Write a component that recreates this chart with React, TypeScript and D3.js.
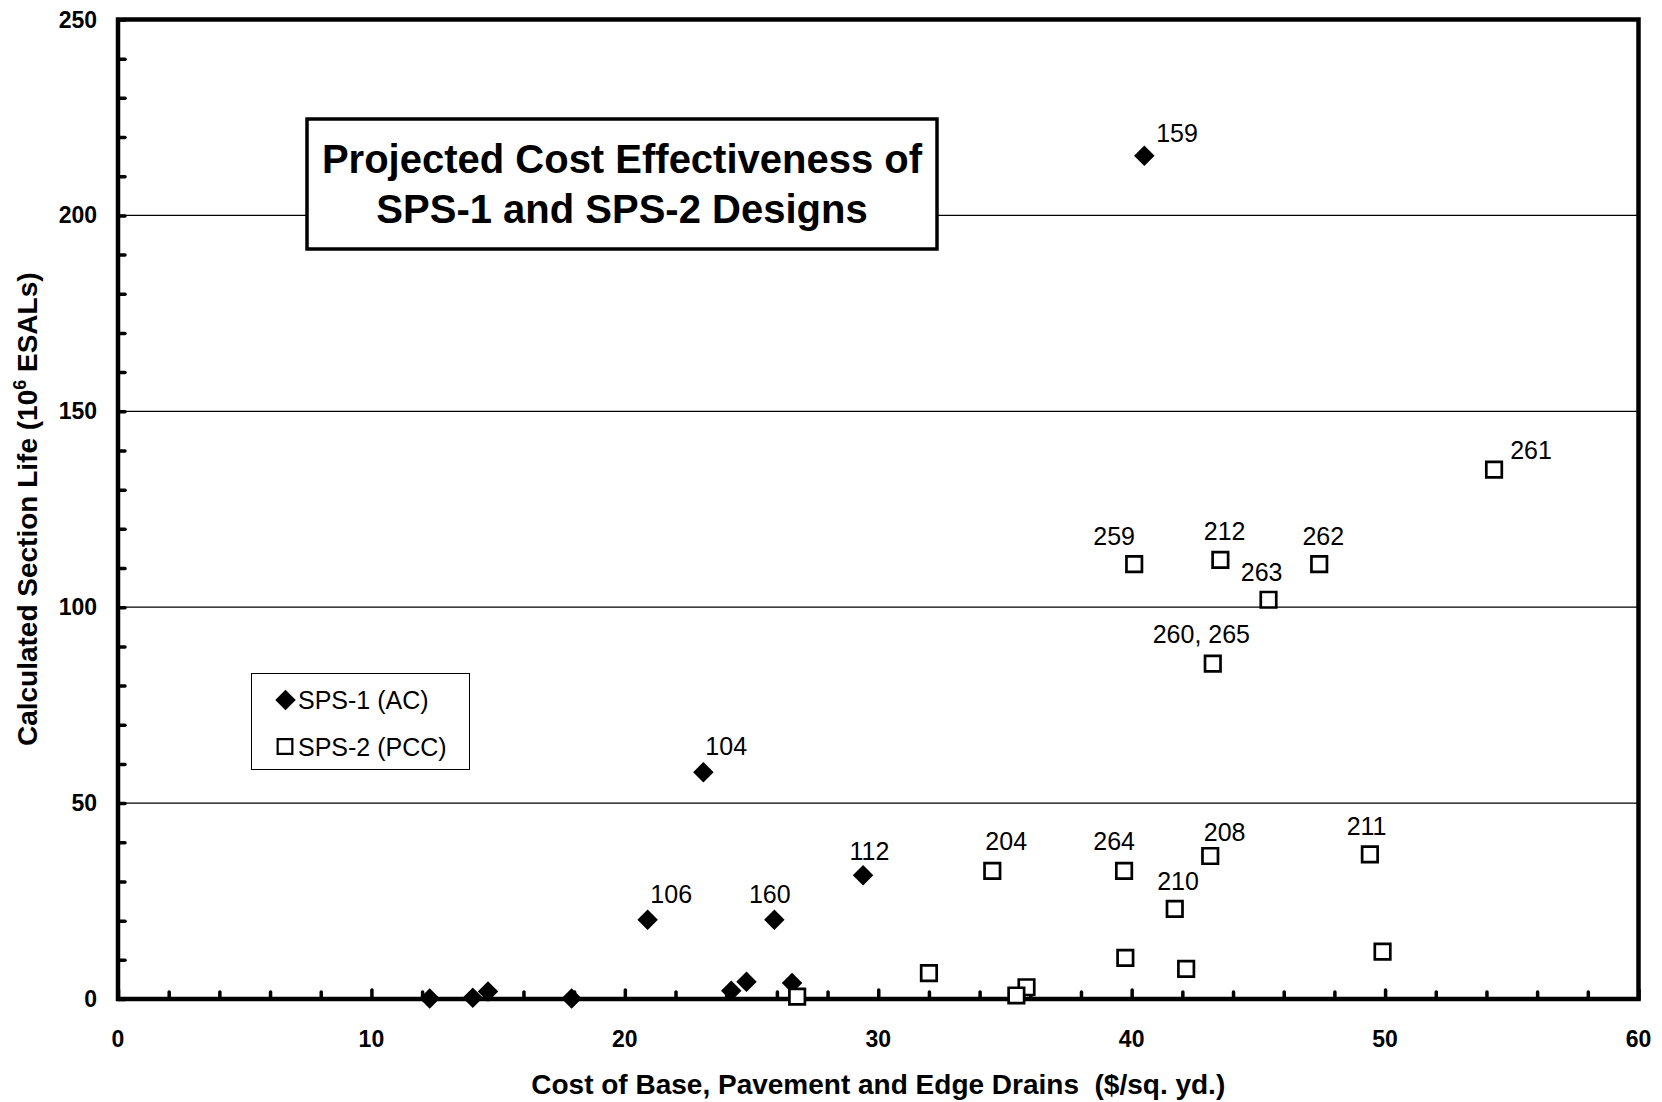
import * as d3 from "d3";
import React from "react";

// axis ticks
const xLabelTicks = [0, 10, 20, 30, 40, 50, 60];
const xMinorTicks = d3.range(0, 61, 2);
const yLabelTicks = [0, 50, 100, 150, 200, 250];
const yMinorTicks = d3.range(0, 251, 10);
const gridValues = [50, 100, 150, 200];

// SPS-1 (AC) sections
const sps1Cost = [40.5, 23.1, 29.4, 20.9, 25.9, 12.3, 14.0, 14.6, 17.9, 24.2, 24.8, 26.6];
const sps1Life = [215.2, 57.9, 31.6, 20.2, 20.2, 0.1, 0.3, 1.9, 0.1, 2.1, 4.4, 4.1];

// SPS-2 (PCC) sections
const sps2Cost = [54.3, 40.1, 43.5, 47.4, 45.4, 43.2, 34.5, 39.7, 43.1, 49.4, 41.7, 32.0, 39.75, 42.15, 49.9, 35.85, 35.45, 26.8];
const sps2Life = [135.1, 111.0, 112.1, 111.0, 101.9, 85.6, 32.7, 32.7, 36.5, 36.9, 23.0, 6.6, 10.5, 7.7, 12.1, 3.0, 0.9, 0.6];

// section number labels (anchored in data units)
const labelText = ["159", "104", "112", "106", "160", "261", "259", "212", "262", "263", "260, 265", "204", "264", "208", "210", "211"];
const labelCost = [41.79, 24.0, 29.65, 21.83, 25.72, 55.76, 39.31, 43.67, 47.56, 45.13, 42.75, 35.05, 39.31, 43.67, 41.83, 49.27];
const labelLife = [221.1, 64.5, 37.8, 26.9, 26.9, 140.0, 118.3, 119.4, 118.3, 109.1, 93.2, 40.2, 40.2, 42.6, 30.2, 44.2];

const width = 1662;
const height = 1102;
const font = "'Liberation Sans', Arial, sans-serif";

export default function App() {
  const svgRef = React.useRef<SVGSVGElement | null>(null);

  React.useEffect(() => {
    const svg = d3.select(svgRef.current);
    svg.selectAll("*").remove();
    const margin = { top: 19.5, right: 23.5, bottom: 103, left: 118 };

    const x = d3.scaleLinear().domain([0, 60]).range([margin.left, width - margin.right]);
    const y = d3.scaleLinear().domain([0, 250]).range([height - margin.bottom, margin.top]);

    // grid lines
    svg
      .append("g")
      .selectAll("line")
      .data(gridValues)
      .join("line")
      .attr("x1", x(0))
      .attr("x2", x(60))
      .attr("y1", (d) => y(d))
      .attr("y2", (d) => y(d))
      .attr("stroke", "#000")
      .attr("stroke-width", 1.2);

    // minor ticks, pointing inward
    const xMinor = svg
      .append("g")
      .attr("transform", `translate(0,${y(0)})`)
      .call(d3.axisBottom(x).tickValues(xMinorTicks).tickSize(-7).tickFormat(() => ""));
    xMinor.select(".domain").remove();
    xMinor.selectAll("line")
      .attr("stroke-width", 3.5)
      .attr("stroke-linecap", "round")
      .attr("y2", (d: any) => (d % 10 === 0 ? -9 : -7));

    const yMinor = svg
      .append("g")
      .attr("transform", `translate(${x(0)},0)`)
      .call(d3.axisLeft(y).tickValues(yMinorTicks).tickSize(-7).tickFormat(() => ""));
    yMinor.select(".domain").remove();
    yMinor.selectAll("line").attr("stroke-width", 3.5).attr("stroke-linecap", "round");

    // frame
    svg
      .append("rect")
      .attr("x", x(0))
      .attr("y", y(250))
      .attr("width", x(60) - x(0))
      .attr("height", y(0) - y(250))
      .attr("fill", "none")
      .attr("stroke", "#000")
      .attr("stroke-width", 4.5);

    // tick labels
    svg
      .append("g")
      .selectAll("text")
      .data(xLabelTicks)
      .join("text")
      .attr("x", (d) => x(d))
      .attr("y", y(0) + 40)
      .attr("text-anchor", "middle")
      .attr("dominant-baseline", "central")
      .attr("font-family", font)
      .attr("font-weight", "bold")
      .attr("font-size", 23)
      .text((d) => d);

    svg
      .append("g")
      .selectAll("text")
      .data(yLabelTicks)
      .join("text")
      .attr("x", x(0) - 21)
      .attr("y", (d) => y(d))
      .attr("text-anchor", "end")
      .attr("dominant-baseline", "central")
      .attr("font-family", font)
      .attr("font-weight", "bold")
      .attr("font-size", 23)
      .text((d) => d);

    // axis titles
    svg
      .append("text")
      .attr("x", (x(0) + x(60)) / 2)
      .attr("y", 1094)
      .attr("text-anchor", "middle")
      .attr("font-family", font)
      .attr("font-weight", "bold")
      .attr("font-size", 28)
      .attr("xml:space", "preserve")
      .text("Cost of Base, Pavement and Edge Drains  ($/sq. yd.)");

    const yTitle = svg
      .append("text")
      .attr("transform", `translate(37,${(y(0) + y(250)) / 2}) rotate(-90)`)
      .attr("text-anchor", "middle")
      .attr("font-family", font)
      .attr("font-weight", "bold")
      .attr("font-size", 28);
    yTitle.append("tspan").text("Calculated Section Life (10");
    yTitle.append("tspan").attr("font-size", 18).attr("dy", -11).text("6");
    yTitle.append("tspan").attr("dy", 11).text(" ESALs)");

    // title box
    svg
      .append("rect")
      .attr("x", 307)
      .attr("y", 119)
      .attr("width", 630)
      .attr("height", 130)
      .attr("fill", "#fff")
      .attr("stroke", "#000")
      .attr("stroke-width", 3.5);
    const titleLines = ["Projected Cost Effectiveness of", "SPS-1 and SPS-2 Designs"];
    svg
      .append("g")
      .selectAll("text")
      .data(titleLines)
      .join("text")
      .attr("x", 622)
      .attr("y", (_, i) => 173 + i * 50)
      .attr("text-anchor", "middle")
      .attr("font-family", font)
      .attr("font-weight", "bold")
      .attr("font-size", 40)
      .text((d) => d);

    const diamond = d3.symbol(d3.symbolSquare, 210);
    const square = d3.symbol(d3.symbolSquare, 240);

    // SPS-1 diamonds
    svg
      .append("g")
      .selectAll("path")
      .data(sps1Cost.map((c, i) => [c, sps1Life[i]]))
      .join("path")
      .attr("d", diamond)
      .attr("transform", (d) => `translate(${x(d[0])},${y(d[1])}) rotate(45)`)
      .attr("fill", "#000");

    // SPS-2 squares
    svg
      .append("g")
      .selectAll("path")
      .data(sps2Cost.map((c, i) => [c, sps2Life[i]]))
      .join("path")
      .attr("d", square)
      .attr("transform", (d) => `translate(${x(d[0])},${y(d[1])})`)
      .attr("fill", "#fff")
      .attr("stroke", "#000")
      .attr("stroke-width", 2.7);

    // point labels
    svg
      .append("g")
      .selectAll("text")
      .data(labelText.map((t, i) => ({ t, c: labelCost[i], l: labelLife[i] })))
      .join("text")
      .attr("x", (d) => x(d.c))
      .attr("y", (d) => y(d.l))
      .attr("text-anchor", "middle")
      .attr("dominant-baseline", "central")
      .attr("font-family", font)
      .attr("font-size", 25)
      .text((d) => d.t);

    // legend
    const legend = svg.append("g");
    legend
      .append("rect")
      .attr("x", 251.5)
      .attr("y", 673.5)
      .attr("width", 218)
      .attr("height", 96)
      .attr("fill", "#fff")
      .attr("stroke", "#000")
      .attr("stroke-width", 1);
    legend
      .append("path")
      .attr("d", diamond)
      .attr("transform", "translate(285.5,700) rotate(45)")
      .attr("fill", "#000");
    legend
      .append("path")
      .attr("d", d3.symbol(d3.symbolSquare, 215))
      .attr("transform", "translate(285,746.5)")
      .attr("fill", "#fff")
      .attr("stroke", "#000")
      .attr("stroke-width", 2.2);
    legend
      .selectAll("text.leg")
      .data(["SPS-1 (AC)", "SPS-2 (PCC)"])
      .join("text")
      .attr("class", "leg")
      .attr("x", 298)
      .attr("y", (_, i) => 700 + i * 46.5)
      .attr("dominant-baseline", "central")
      .attr("font-family", font)
      .attr("font-size", 25)
      .text((d) => d);
  }, []);

  return (
    <svg
      ref={svgRef}
      width={width}
      height={height}
      viewBox={`0 0 ${width} ${height}`}
      style={{ position: "absolute", left: 0, top: 0, background: "#fff" }}
    ></svg>
  );
}
